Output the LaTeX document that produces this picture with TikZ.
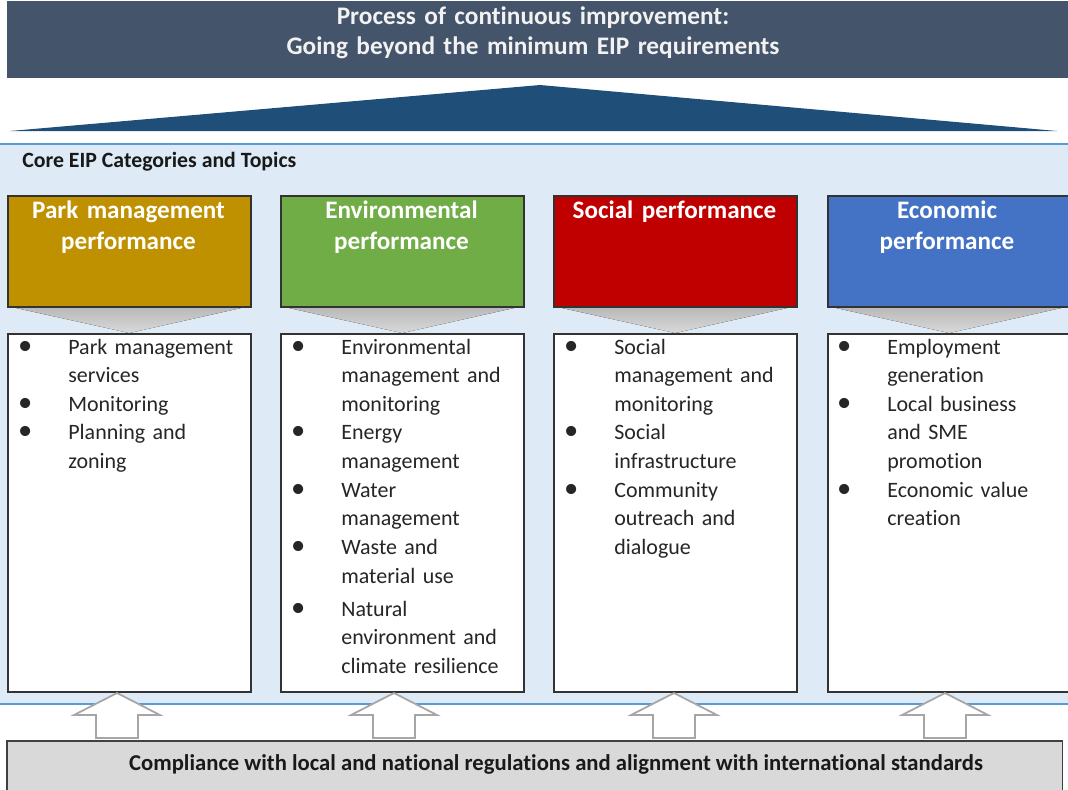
\documentclass[tikz,border=0pt]{standalone}
\usepackage{fontspec}
\setmainfont{Carlito}[Ligatures=NoCommon]
\usepackage{tikz}

\definecolor{bannerc}{HTML}{44546A}
\definecolor{wedgec}{HTML}{1F4E79}
\definecolor{panelc}{HTML}{DEEAF6}
\definecolor{panelline}{HTML}{5B9BD5}
\definecolor{parkc}{HTML}{BF9000}
\definecolor{envc}{HTML}{70AD47}
\definecolor{socc}{HTML}{C00000}
\definecolor{ecoc}{HTML}{4472C4}
\definecolor{basec}{HTML}{D9D9D9}

\newcommand{\bul}{\makebox[0pt][r]{\scalebox{1.3}{\textbullet}\hspace{0.72cm}}}

\tikzset{
  headbox/.style={draw=black!80, line width=0.9pt, anchor=north west, minimum width=4.86cm, minimum height=2.22cm, inner sep=0},
  headtext/.style={text=white, font=\bfseries\fontsize{14.3}{18.2}\selectfont, align=center, text width=4.7cm, inner sep=0, anchor=base},
  listbox/.style={draw=black!80, line width=0.9pt, fill=white, anchor=north west, minimum width=4.86cm, minimum height=7.16cm, inner sep=0},
  listtext/.style={text=black!85, font=\fontsize{12.5}{16.3}\selectfont, align=left, text width=4.2cm, inner sep=0, anchor=base west},
  funnel/.style={top color=black!28, bottom color=black!15, draw=none},
  uparrow/.style={draw=black!35, line width=1pt, fill=white, line join=miter},
}

\begin{document}
\begin{tikzpicture}[x=0.02cm, y=-0.02cm]
\useasboundingbox (0,0) rectangle (1068,789);

% top banner and wedge
\node[fill=bannerc, anchor=north west, minimum width=21.3cm, minimum height=1.54cm, inner sep=0] (banner) at (7,1) {};
\node[text=white!95!black, font=\bfseries\fontsize{14.4}{17.6}\selectfont, align=center, inner sep=0, anchor=base, text width=15cm] (bannertext) at (533,24) {Process of continuous improvement:\\Going beyond the minimum EIP requirements};
\fill[wedgec] (10,131) -- (540,85) -- (1057,131) -- cycle;

% panel
\fill[panelc] (0,144) rectangle (1068,704);
\draw[panelline, line width=1pt] (0,144) -- (1068,144);
\draw[panelline, line width=1pt] (0,704) -- (1068,704);
\node[font=\bfseries\fontsize{12.4}{14}\selectfont, text=black!90, inner sep=0, anchor=base west] (core) at (22,167) {Core EIP Categories and Topics};

% content boxes
\node[listbox] (parklist) at (7,333) {};
\node[listbox] (envlist) at (280,333) {};
\node[listbox] (soclist) at (553,333) {};
\node[listbox] (ecolist) at (827,333) {};

% funnels
\fill[funnel] (7,306) -- (250,306) -- (parklist.north) -- cycle;
\fill[funnel] (280,306) -- (523,306) -- (envlist.north) -- cycle;
\fill[funnel] (553,306) -- (796,306) -- (soclist.north) -- cycle;
\fill[funnel] (827,306) -- (1070,306) -- (ecolist.north) -- cycle;

% category boxes
\node[headbox, fill=parkc] (park) at (7,195) {};
\node[headbox, fill=envc] (env) at (280,195) {};
\node[headbox, fill=socc] (soc) at (553,195) {};
\node[headbox, fill=ecoc] (eco) at (827,195) {};
\node[headtext] (parktext) at (128.5,218) {Park management\\performance};
\node[headtext] (envtext) at (401.5,218) {Environmental\\performance};
\node[headtext] (soctext) at (674.5,218) {Social performance};
\node[headtext] (ecotext) at (947,218) {Economic\\performance};

% topics
\node[listtext] (parkitems) at (68,354) {\bul Park management\\services\\\bul Monitoring\\\bul Planning and\\zoning};
\node[listtext] (envitems) at (341,354) {\bul Environmental\\management and\\monitoring\\\bul Energy\\management\\\bul Water\\management\\\bul Waste and\\material use\\[2.5pt]\bul Natural\\environment and\\climate resilience};
\node[listtext] (socitems) at (614,354) {\bul Social\\management and\\monitoring\\\bul Social\\infrastructure\\\bul Community\\outreach and\\dialogue};
\node[listtext] (ecoitems) at (887,354) {\bul Employment\\generation\\\bul Local business\\and SME\\promotion\\\bul Economic value\\creation};

% compliance base
\node[draw=black!75, line width=0.9pt, fill=basec, anchor=north west, minimum width=21.12cm, minimum height=1.2cm, inner sep=0] (base) at (6,740) {};
\node[font=\bfseries\fontsize{12.9}{14}\selectfont, text=black!90, inner sep=0, anchor=base] (basetext) at (556,770) {Compliance with local and national regulations and alignment with international standards};

\foreach \x in {117,394,674,945}
  \draw[uparrow] (\x,693) -- (\x+43,715) -- (\x+21,715) -- (\x+21,738) -- (\x-21,738) -- (\x-21,715) -- (\x-43,715) -- cycle;
\end{tikzpicture}
\end{document}
